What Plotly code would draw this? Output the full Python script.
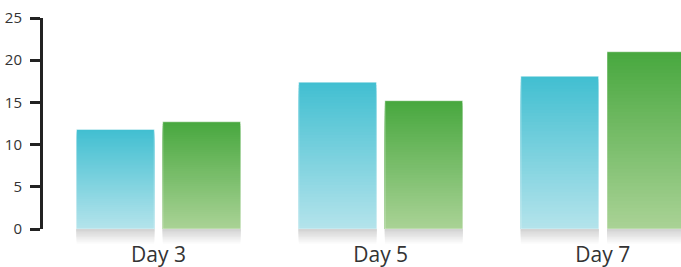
import plotly.graph_objects as go

# ---- data ----
categories = ["Day 3", "Day 5", "Day 7"]
series_blue = [11.8, 17.4, 18.1]
series_green = [12.7, 15.2, 21.0]
y_tick_vals = [0, 5, 10, 15, 20, 25]
y_tick_text = ["0", "5", "10", "15", "20", "25"]

# ---- styles ----
BLUE_TOP, BLUE_BOTTOM = "#42bfd1", "#b3e3eb"
GREEN_TOP, GREEN_BOTTOM = "#48a83f", "#a9d295"
SHADOW_TOP, SHADOW_BOTTOM = "#d4d4d4", "#ffffff"
BAR_W = 0.35
HALF_GAP = 0.019
N_SEG = 50
N_SHADOW = 10


def hex2rgb(h):
    h = h.lstrip("#")
    return tuple(int(h[i:i + 2], 16) for i in (0, 2, 4))


def lerp(c1, c2, t):
    a, b = hex2rgb(c1), hex2rgb(c2)
    return "rgb({},{},{})".format(*[round(a[i] + (b[i] - a[i]) * t) for i in range(3)])


fig = go.Figure()

series = [
    (series_blue, BLUE_TOP, BLUE_BOTTOM, -BAR_W - HALF_GAP),
    (series_green, GREEN_TOP, GREEN_BOTTOM, HALF_GAP),
]

for vals, top, bottom, offset in series:
    # gradient: overlapping bars, each shorter and lighter than the last
    for k in range(N_SEG):
        frac = 1 - k / N_SEG
        t = k / (N_SEG - 1)
        fig.add_trace(go.Bar(
            x=categories,
            y=[v * frac for v in vals],
            width=BAR_W, offset=offset,
            marker=dict(color=lerp(top, bottom, t), line=dict(width=0)),
            showlegend=False, hoverinfo="skip",
            xaxis="x", yaxis="y",
        ))
    # thin light outline around each bar
    fig.add_trace(go.Bar(
        x=categories,
        y=vals,
        width=BAR_W, offset=offset,
        marker=dict(color="rgba(0,0,0,0)",
                    line=dict(width=1, color="rgba(255,255,255,0.45)")),
        showlegend=False, hoverinfo="skip",
        xaxis="x", yaxis="y",
    ))
    # floor shadow under each bar (darkest near the floor)
    for k in range(N_SHADOW):
        frac = 1 - k / N_SHADOW
        t = k / (N_SHADOW - 1)
        fig.add_trace(go.Bar(
            x=categories,
            y=[-frac] * len(vals),
            width=BAR_W, offset=offset,
            marker=dict(color=lerp(SHADOW_BOTTOM, SHADOW_TOP, t), line=dict(width=0)),
            showlegend=False, hoverinfo="skip",
            xaxis="x", yaxis="y2",
        ))

W, H = 681, 267
top_m, bot_m = 18, 22
plot_h = H - top_m - bot_m
zero_px = 229
main_lo = (H - bot_m - zero_px) / plot_h

fig.update_layout(
    width=W, height=H,
    margin=dict(l=43, r=0, t=top_m, b=bot_m, pad=0, autoexpand=False),
    paper_bgcolor="white", plot_bgcolor="white",
    barmode="overlay",
    font=dict(family="Open Sans, Noto Sans, sans-serif", color="#333333"),
    xaxis=dict(
        type="category",
        range=[-0.52, 2.352],
        showline=False, showgrid=False, zeroline=False,
        ticks="", tickfont=dict(size=21, color="#333333"),
        ticklabelstandoff=11,
        anchor="y", automargin=False,
    ),
    yaxis=dict(
        domain=[main_lo, 1],
        range=[0, 25],
        tickvals=y_tick_vals, ticktext=y_tick_text,
        showline=True, linewidth=3, linecolor="#222222",
        ticks="outside", ticklen=10, tickwidth=2.5, tickcolor="#222222",
        tickfont=dict(size=15, color="#333333"),
        ticklabelstandoff=5,
        showgrid=False, zeroline=False,
        anchor="x", automargin=False,
    ),
    yaxis2=dict(
        domain=[0, main_lo],
        range=[-1, 0],
        visible=False,
        anchor="x",
    ),
)

fig.write_html(
    "out.html",
    config={"displayModeBar": False},
    post_script="document.body.style.margin='0px';document.body.style.padding='0px';",
)
